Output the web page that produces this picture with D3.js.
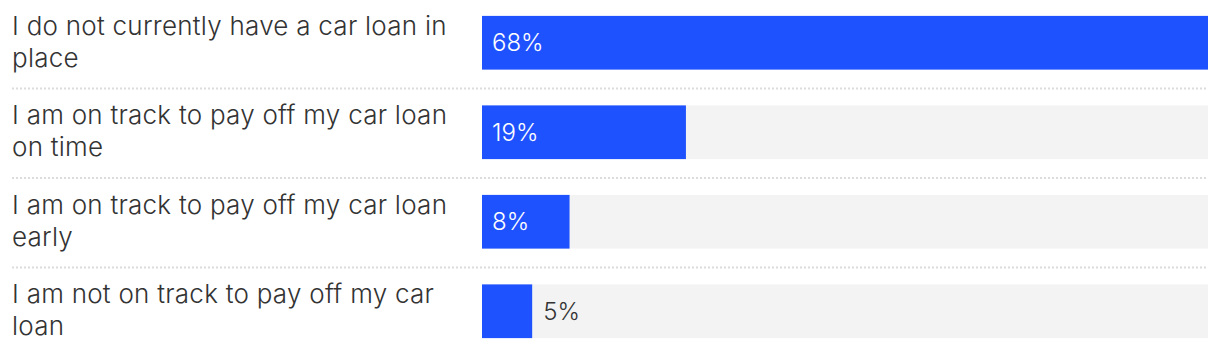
<!DOCTYPE html>
<html>
<head>
<meta charset="utf-8">
<script src="https://cdn.jsdelivr.net/npm/d3@7"></script>
<style>
  html, body { margin: 0; padding: 0; background: #fff; }
  svg { display: block; font-family: "Inter", "Noto Sans", sans-serif; }
  .label { fill: #333; font-size: 26px; letter-spacing: 0.25px; font-weight: 350; }
  .value { font-size: 24px; font-weight: 350; }
</style>
</head>
<body>
<div id="chart"></div>
<script>
// categories (line breaks as in the picture)
var categories = [
    'I do not currently have a car loan in\nplace',
    'I am on track to pay off my car loan\non time',
    'I am on track to pay off my car loan\nearly',
    'I am not on track to pay off my car\nloan'
];

// share of respondents [%]
var values = [68, 19.1, 8.2, 4.7];

// labels shown on the bars
var valueLabels = ['68%', '19%', '8%', '5%'];

var svgWidth = 1220;
var svgHeight = 356;

var barLeft = 482;
var barRight = 1208;

var svg = d3.select('#chart')
    .append('svg')
    .attr('width', svgWidth)
    .attr('height', svgHeight);

// x scale - longest bar fills the track
var xScale = d3.scaleLinear()
    .domain([0, d3.max(values)])
    .range([barLeft, barRight]);

// y scale - one band per answer
var yScale = d3.scaleBand()
    .domain(categories)
    .range([-2, svgHeight])
    .paddingInner(0.4)
    .paddingOuter(0.2);

var data = categories.map((c, i) => ({ cat: c, value: values[i], label: valueLabels[i] }));

// dotted separators between rows
var step = yScale.step();
svg.selectAll('line.sep')
    .data(categories.slice(1))
    .enter()
    .append('line')
    .attr('class', 'sep')
    .attr('x1', 12)
    .attr('x2', barRight)
    .attr('y1', d => yScale(d) - step * 0.2 + 1)
    .attr('y2', d => yScale(d) - step * 0.2 + 1)
    .attr('stroke', '#dcdcdc')
    .attr('stroke-width', 2)
    .attr('stroke-dasharray', '2,2');

var rows = svg.selectAll('g.row')
    .data(data)
    .enter()
    .append('g')
    .attr('class', 'row');

// background track
rows.append('rect')
    .attr('x', barLeft)
    .attr('y', d => yScale(d.cat))
    .attr('width', barRight - barLeft)
    .attr('height', yScale.bandwidth())
    .attr('fill', '#f3f3f3');

// value bar
rows.append('rect')
    .attr('x', barLeft)
    .attr('y', d => yScale(d.cat))
    .attr('width', d => xScale(d.value) - barLeft)
    .attr('height', yScale.bandwidth())
    .attr('fill', '#1f52ff');

// category labels
rows.append('text')
    .attr('class', 'label')
    .each(function (d) {
        var mid = yScale(d.cat) + yScale.bandwidth() / 2;
        var lines = d.cat.split('\n');
        d3.select(this).selectAll('tspan')
            .data(lines)
            .enter()
            .append('tspan')
            .attr('x', 12)
            .attr('y', (l, i) => mid - 8 + i * 32)
            .text(l => l);
    });

// value labels - inside bar when it fits
rows.append('text')
    .attr('class', 'value')
    .attr('y', d => yScale(d.cat) + yScale.bandwidth() / 2)
    .attr('dy', '0.35em')
    .attr('x', d => (xScale(d.value) - barLeft > 70) ? barLeft + 10 : xScale(d.value) + 11)
    .attr('fill', d => (xScale(d.value) - barLeft > 70) ? '#fff' : '#333')
    .text(d => d.label);
</script>
</body>
</html>
